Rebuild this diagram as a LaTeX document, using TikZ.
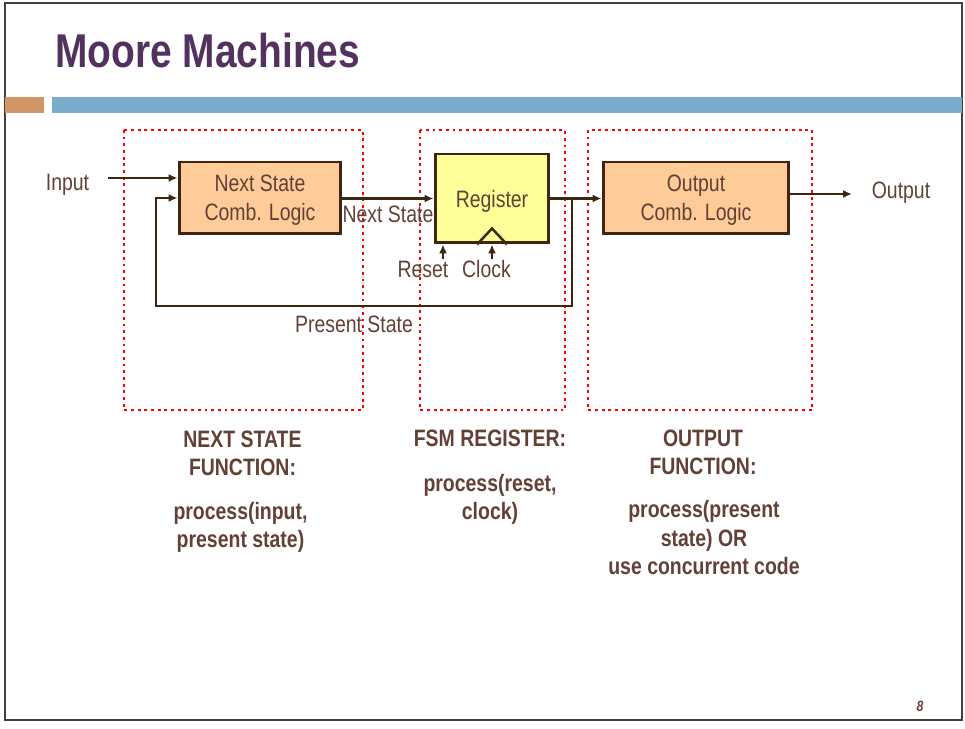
\documentclass[tikz,border=0pt]{standalone}
\usepackage{fontspec}
\setmainfont[FakeStretch=0.82]{Liberation Sans}
\usepackage{tikz}
\usetikzlibrary{shapes,arrows.meta,positioning,calc}

\definecolor{wire}{RGB}{64,38,14}
\definecolor{textbrown}{RGB}{99,64,54}
\definecolor{titlepurple}{RGB}{84,50,96}
\definecolor{peach}{RGB}{255,204,153}
\definecolor{regyellow}{RGB}{255,255,153}
\definecolor{barorange}{RGB}{208,150,104}
\definecolor{barblue}{RGB}{121,172,203}
\definecolor{framegray}{RGB}{64,64,64}

\begin{document}
\begin{tikzpicture}[
    x=0.02cm, y=-0.02cm,
    logic/.style={draw=wire, line width=1.7pt, rectangle, fill=peach, minimum width=3.24cm, minimum height=1.44cm, align=center, text depth=-1.8pt, text=textbrown, font=\fontsize{13.5}{16.5}\selectfont},
    reg/.style={draw=wire, line width=1.7pt, rectangle, fill=regyellow, minimum width=2.28cm, minimum height=1.78cm, text depth=-1.8pt, text=textbrown, font=\fontsize{13.5}{16.5}\selectfont},
    lbl/.style={text=textbrown, font=\fontsize{13.5}{16.5}\selectfont, anchor=base, inner sep=0pt},
    fnlbl/.style={text=textbrown, font=\fontsize{13.5}{16.5}\selectfont\bfseries, anchor=base, align=center, inner sep=0pt},
    arrow/.style={-{Latex[length=5pt,width=4.5pt]}, line width=1.4pt, draw=wire},
    wire/.style={line width=1.4pt, draw=wire},
    dotbox/.style={draw=red, line width=1.6pt, dash pattern=on 1.6pt off 2.2pt}
]
\useasboundingbox (0,0) rectangle (965,729);

% Slide frame and title
\draw[framegray, line width=1.4pt] (5,3) rectangle (962,720);
\fill[barorange] (5,97) rectangle (44,113);
\fill[barblue] (52,97) rectangle (962,113);
\node[anchor=base west, inner sep=0pt, text=titlepurple, font=\fontsize{27}{30}\selectfont\bfseries] (title) at (55,68) {Moore Machines};

% Dotted regions
\draw[dotbox] (124,130) rectangle (363,410);
\draw[dotbox] (420,130) rectangle (565,410);
\draw[dotbox] (588,130) rectangle (812,410);

% Blocks
\node[logic] (nsl) at (260,198) {Next State\\Comb. Logic};
\node[reg] (regb) at (492,198.5) {Register};
\node[logic, minimum width=3.72cm] (outl) at (696,198) {Output\\Comb. Logic};

% Clock edge mark
\draw[wire] ([xshift=-0.3cm]regb.south) -- ++(0.3cm,0.32cm) -- ([xshift=0.3cm]regb.south);

% Signals
\coordinate (inp) at (108,178);
\coordinate (outp) at (852,194);
\coordinate (tap) at (572,198.5);
\coordinate (fbk) at (156,306);
\coordinate (rst) at (443,259);
\coordinate (clk) at (492,259);

\draw[arrow] (inp) -- (inp -| nsl.west);
\draw[arrow] (nsl.east |- regb.west) -- (regb.west);
\draw[arrow] (regb.east) -- (regb.east -| outl.west);
\draw[arrow] (tap) |- (fbk) |- (nsl.west);
\draw[arrow] (outp -| outl.east) -- (outp);
\draw[arrow] (rst) -- (rst |- regb.south);
\draw[arrow] (clk) -- (clk |- regb.south);

% Labels
\node[lbl] (inlbl) at (67.5,191) {Input};
\node[lbl] (outlbl) at (901,199) {Output};
\node[lbl] (nslbl) at (388,223) {Next State};
\node[lbl] (pslbl) at (354,333) {Present State};
\node[lbl] (rstlbl) at (423,278) {Reset};
\node[lbl] (clklbl) at (486.5,278) {Clock};

% Function notes (anchored at last baseline)
\node[fnlbl] (nsfn) at (242.5,476) {NEXT STATE\\FUNCTION:};
\node[fnlbl] (nsproc) at (240.5,548) {process(input,\\ present state)};
\node[fnlbl] (regfn) at (490,447) {FSM REGISTER:};
\node[fnlbl] (regproc) at (490,520) {process(reset,\\clock)};
\node[fnlbl] (outfn) at (703,475) {OUTPUT\\FUNCTION:};
\node[fnlbl] (outproc) at (704,575) {process(present\\state) OR\\use concurrent code};

% Page number
\node[lbl, font=\fontsize{8.5}{10}\selectfont\bfseries\itshape] (pgno) at (920,712) {8};
\end{tikzpicture}
\end{document}
